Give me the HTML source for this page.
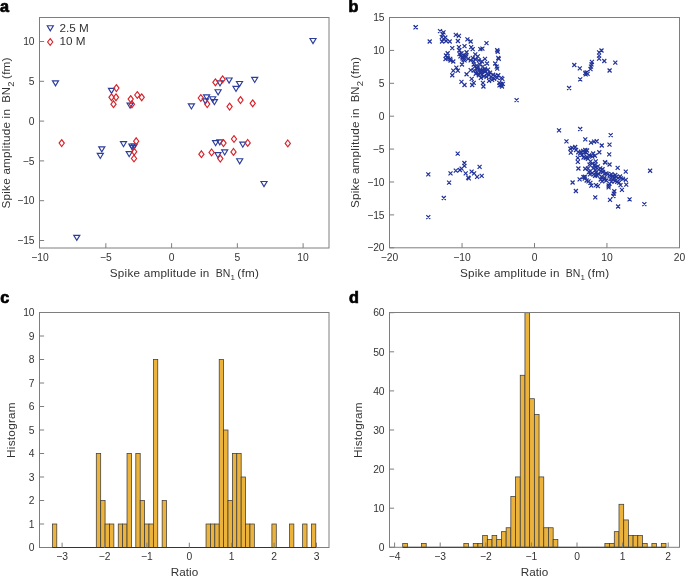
<!DOCTYPE html>
<html><head><meta charset="utf-8"><title>Figure</title>
<style>
html,body{margin:0;padding:0;background:#fff;}
body{width:685px;height:577px;overflow:hidden;}
svg{display:block;font-family:"Liberation Sans",sans-serif;will-change:transform;}
</style></head>
<body>
<svg width="685" height="577" viewBox="0 0 685 577" fill="#333333">
<text x="0" y="11.9" font-size="16.2" font-weight="bold" fill="#000" stroke="#000" stroke-width="0.7">a</text>
<rect x="39.5" y="17.5" width="289.5" height="230.5" fill="none" stroke="#7e7e7e" stroke-width="1"/>
<line x1="39.5" y1="41.5" x2="44.1" y2="41.5" stroke="#7e7e7e" stroke-width="1"/>
<text x="34.6" y="45.2" text-anchor="end" font-size="10.3">10</text>
<line x1="39.5" y1="81.3" x2="44.1" y2="81.3" stroke="#7e7e7e" stroke-width="1"/>
<text x="34.6" y="85" text-anchor="end" font-size="10.3">5</text>
<line x1="39.5" y1="121.1" x2="44.1" y2="121.1" stroke="#7e7e7e" stroke-width="1"/>
<text x="34.6" y="124.8" text-anchor="end" font-size="10.3">0</text>
<line x1="39.5" y1="160.9" x2="44.1" y2="160.9" stroke="#7e7e7e" stroke-width="1"/>
<text x="34.6" y="164.6" text-anchor="end" font-size="10.3">−5</text>
<line x1="39.5" y1="200.7" x2="44.1" y2="200.7" stroke="#7e7e7e" stroke-width="1"/>
<text x="34.6" y="204.4" text-anchor="end" font-size="10.3">−10</text>
<line x1="39.5" y1="240.5" x2="44.1" y2="240.5" stroke="#7e7e7e" stroke-width="1"/>
<text x="34.6" y="244.2" text-anchor="end" font-size="10.3">−15</text>
<text x="40.1" y="260.8" text-anchor="middle" font-size="10.3">−10</text>
<line x1="105.85" y1="248" x2="105.85" y2="243.2" stroke="#7e7e7e" stroke-width="1"/>
<text x="105.85" y="260.8" text-anchor="middle" font-size="10.3">−5</text>
<line x1="171.6" y1="248" x2="171.6" y2="243.2" stroke="#7e7e7e" stroke-width="1"/>
<text x="171.6" y="260.8" text-anchor="middle" font-size="10.3">0</text>
<line x1="237.35" y1="248" x2="237.35" y2="243.2" stroke="#7e7e7e" stroke-width="1"/>
<text x="237.35" y="260.8" text-anchor="middle" font-size="10.3">5</text>
<line x1="303.1" y1="248" x2="303.1" y2="243.2" stroke="#7e7e7e" stroke-width="1"/>
<text x="303.1" y="260.8" text-anchor="middle" font-size="10.3">10</text>
<g transform="translate(110.4,277.1)"><text x="-0.55" y="0" textLength="99.4" lengthAdjust="spacing" font-size="11.7">Spike amplitude in</text><text x="105.25" y="0" textLength="14.6" lengthAdjust="spacingAndGlyphs" font-size="11.7">BN</text><text x="120" y="3.3" font-size="8">1</text><text x="126.8" y="0" textLength="21.8" lengthAdjust="spacing" font-size="11.7">(fm)</text></g>
<g transform="translate(9.6,207.9) rotate(-90)"><text x="-0.55" y="0" textLength="99.4" lengthAdjust="spacing" font-size="11.7">Spike amplitude in</text><text x="105.25" y="0" textLength="15.6" lengthAdjust="spacingAndGlyphs" font-size="11.7">BN</text><text x="121.25" y="4.3" font-size="9.4">2</text><text x="129" y="0" textLength="21.2" lengthAdjust="spacing" font-size="11.7">(fm)</text></g>
<path d="M47.25 25.7H53.35L50.3 30.8Z" fill="none" stroke="#2c3d9c" stroke-width="1.15"/>
<path d="M50.2 38.6L52.8 42L50.2 45.4L47.6 42Z" fill="none" stroke="#d8232a" stroke-width="1.15"/>
<text x="59.6" y="32.1" font-size="11.7">2.5 M</text>
<text x="59.6" y="45.1" font-size="11.7">10 M</text>
<path d="M52.45 80.8H58.55L55.5 85.9Z" fill="none" stroke="#2c3d9c" stroke-width="1.15"/>
<path d="M309.95 38.5H316.05L313 43.6Z" fill="none" stroke="#2c3d9c" stroke-width="1.15"/>
<path d="M73.75 235.3H79.85L76.8 240.4Z" fill="none" stroke="#2c3d9c" stroke-width="1.15"/>
<path d="M260.95 181.5H267.05L264 186.6Z" fill="none" stroke="#2c3d9c" stroke-width="1.15"/>
<path d="M108.45 88.3H114.55L111.5 93.4Z" fill="none" stroke="#2c3d9c" stroke-width="1.15"/>
<path d="M127.05 103.1H133.15L130.1 108.2Z" fill="none" stroke="#2c3d9c" stroke-width="1.15"/>
<path d="M98.75 146.8H104.85L101.8 151.9Z" fill="none" stroke="#2c3d9c" stroke-width="1.15"/>
<path d="M97.25 153.4H103.35L100.3 158.5Z" fill="none" stroke="#2c3d9c" stroke-width="1.15"/>
<path d="M120.45 141.6H126.55L123.5 146.7Z" fill="none" stroke="#2c3d9c" stroke-width="1.15"/>
<path d="M128.85 144H134.95L131.9 149.1Z" fill="none" stroke="#2c3d9c" stroke-width="1.15"/>
<path d="M131.15 144H137.25L134.2 149.1Z" fill="none" stroke="#2c3d9c" stroke-width="1.15"/>
<path d="M129.75 145.5H135.85L132.8 150.6Z" fill="none" stroke="#2c3d9c" stroke-width="1.15"/>
<path d="M126.15 151.6H132.25L129.2 156.7Z" fill="none" stroke="#2c3d9c" stroke-width="1.15"/>
<path d="M188.35 103.9H194.45L191.4 109Z" fill="none" stroke="#2c3d9c" stroke-width="1.15"/>
<path d="M203.55 94.9H209.65L206.6 100Z" fill="none" stroke="#2c3d9c" stroke-width="1.15"/>
<path d="M202.35 98.8H208.45L205.4 103.9Z" fill="none" stroke="#2c3d9c" stroke-width="1.15"/>
<path d="M209.65 96.7H215.75L212.7 101.8Z" fill="none" stroke="#2c3d9c" stroke-width="1.15"/>
<path d="M211.35 99.6H217.45L214.4 104.7Z" fill="none" stroke="#2c3d9c" stroke-width="1.15"/>
<path d="M215.05 89.7H221.15L218.1 94.8Z" fill="none" stroke="#2c3d9c" stroke-width="1.15"/>
<path d="M216.95 80.9H223.05L220 86Z" fill="none" stroke="#2c3d9c" stroke-width="1.15"/>
<path d="M226.05 78H232.15L229.1 83.1Z" fill="none" stroke="#2c3d9c" stroke-width="1.15"/>
<path d="M236.45 81.5H242.55L239.5 86.6Z" fill="none" stroke="#2c3d9c" stroke-width="1.15"/>
<path d="M232.95 86.4H239.05L236 91.5Z" fill="none" stroke="#2c3d9c" stroke-width="1.15"/>
<path d="M251.65 77.4H257.75L254.7 82.5Z" fill="none" stroke="#2c3d9c" stroke-width="1.15"/>
<path d="M212.55 140.6H218.65L215.6 145.7Z" fill="none" stroke="#2c3d9c" stroke-width="1.15"/>
<path d="M216.75 139.8H222.85L219.8 144.9Z" fill="none" stroke="#2c3d9c" stroke-width="1.15"/>
<path d="M214.85 152.6H220.95L217.9 157.7Z" fill="none" stroke="#2c3d9c" stroke-width="1.15"/>
<path d="M221.65 149.9H227.75L224.7 155Z" fill="none" stroke="#2c3d9c" stroke-width="1.15"/>
<path d="M239.75 142.1H245.85L242.8 147.2Z" fill="none" stroke="#2c3d9c" stroke-width="1.15"/>
<path d="M236.65 158.7H242.75L239.7 163.8Z" fill="none" stroke="#2c3d9c" stroke-width="1.15"/>
<path d="M61.7 139.7L64.3 143.1L61.7 146.5L59.1 143.1Z" fill="none" stroke="#d8232a" stroke-width="1.15"/>
<path d="M287.8 140L290.4 143.4L287.8 146.8L285.2 143.4Z" fill="none" stroke="#d8232a" stroke-width="1.15"/>
<path d="M116.4 84.7L119 88.1L116.4 91.5L113.8 88.1Z" fill="none" stroke="#d8232a" stroke-width="1.15"/>
<path d="M111.5 93.9L114.1 97.3L111.5 100.7L108.9 97.3Z" fill="none" stroke="#d8232a" stroke-width="1.15"/>
<path d="M116 93.9L118.6 97.3L116 100.7L113.4 97.3Z" fill="none" stroke="#d8232a" stroke-width="1.15"/>
<path d="M113.5 100.8L116.1 104.2L113.5 107.6L110.9 104.2Z" fill="none" stroke="#d8232a" stroke-width="1.15"/>
<path d="M130.7 95.7L133.3 99.1L130.7 102.5L128.1 99.1Z" fill="none" stroke="#d8232a" stroke-width="1.15"/>
<path d="M131.9 100.9L134.5 104.3L131.9 107.7L129.3 104.3Z" fill="none" stroke="#d8232a" stroke-width="1.15"/>
<path d="M137.3 91.6L139.9 95L137.3 98.4L134.7 95Z" fill="none" stroke="#d8232a" stroke-width="1.15"/>
<path d="M141.7 93.9L144.3 97.3L141.7 100.7L139.1 97.3Z" fill="none" stroke="#d8232a" stroke-width="1.15"/>
<path d="M136.2 137.8L138.8 141.2L136.2 144.6L133.6 141.2Z" fill="none" stroke="#d8232a" stroke-width="1.15"/>
<path d="M134.2 148.3L136.8 151.7L134.2 155.1L131.6 151.7Z" fill="none" stroke="#d8232a" stroke-width="1.15"/>
<path d="M134 155.1L136.6 158.5L134 161.9L131.4 158.5Z" fill="none" stroke="#d8232a" stroke-width="1.15"/>
<path d="M200.8 94.6L203.4 98L200.8 101.4L198.2 98Z" fill="none" stroke="#d8232a" stroke-width="1.15"/>
<path d="M207.2 100.7L209.8 104.1L207.2 107.5L204.6 104.1Z" fill="none" stroke="#d8232a" stroke-width="1.15"/>
<path d="M215.4 78.9L218 82.3L215.4 85.7L212.8 82.3Z" fill="none" stroke="#d8232a" stroke-width="1.15"/>
<path d="M222.6 75.9L225.2 79.3L222.6 82.7L220 79.3Z" fill="none" stroke="#d8232a" stroke-width="1.15"/>
<path d="M229.6 103.2L232.2 106.6L229.6 110L227 106.6Z" fill="none" stroke="#d8232a" stroke-width="1.15"/>
<path d="M240.5 96.7L243.1 100.1L240.5 103.5L237.9 100.1Z" fill="none" stroke="#d8232a" stroke-width="1.15"/>
<path d="M252.7 99.9L255.3 103.3L252.7 106.7L250.1 103.3Z" fill="none" stroke="#d8232a" stroke-width="1.15"/>
<path d="M201.4 150.8L204 154.2L201.4 157.6L198.8 154.2Z" fill="none" stroke="#d8232a" stroke-width="1.15"/>
<path d="M211.6 149L214.2 152.4L211.6 155.8L209 152.4Z" fill="none" stroke="#d8232a" stroke-width="1.15"/>
<path d="M223.5 139.7L226.1 143.1L223.5 146.5L220.9 143.1Z" fill="none" stroke="#d8232a" stroke-width="1.15"/>
<path d="M220.3 155.2L222.9 158.6L220.3 162L217.7 158.6Z" fill="none" stroke="#d8232a" stroke-width="1.15"/>
<path d="M234 135.6L236.6 139L234 142.4L231.4 139Z" fill="none" stroke="#d8232a" stroke-width="1.15"/>
<path d="M233.5 148.5L236.1 151.9L233.5 155.3L230.9 151.9Z" fill="none" stroke="#d8232a" stroke-width="1.15"/>
<path d="M247.7 139.5L250.3 142.9L247.7 146.3L245.1 142.9Z" fill="none" stroke="#d8232a" stroke-width="1.15"/>
<text x="348.6" y="11.8" font-size="16.2" font-weight="bold" fill="#000" stroke="#000" stroke-width="0.7">b</text>
<rect x="389.5" y="17.5" width="290" height="230.3" fill="none" stroke="#7e7e7e" stroke-width="1"/>
<line x1="389.5" y1="17.52" x2="394.1" y2="17.52" stroke="#7e7e7e" stroke-width="1"/>
<text x="384.6" y="21.21" text-anchor="end" font-size="10.3">15</text>
<line x1="389.5" y1="50.41" x2="394.1" y2="50.41" stroke="#7e7e7e" stroke-width="1"/>
<text x="384.6" y="54.11" text-anchor="end" font-size="10.3">10</text>
<line x1="389.5" y1="83.31" x2="394.1" y2="83.31" stroke="#7e7e7e" stroke-width="1"/>
<text x="384.6" y="87.01" text-anchor="end" font-size="10.3">5</text>
<line x1="389.5" y1="116.2" x2="394.1" y2="116.2" stroke="#7e7e7e" stroke-width="1"/>
<text x="384.6" y="119.9" text-anchor="end" font-size="10.3">0</text>
<line x1="389.5" y1="149.09" x2="394.1" y2="149.09" stroke="#7e7e7e" stroke-width="1"/>
<text x="384.6" y="152.79" text-anchor="end" font-size="10.3">−5</text>
<line x1="389.5" y1="181.99" x2="394.1" y2="181.99" stroke="#7e7e7e" stroke-width="1"/>
<text x="384.6" y="185.69" text-anchor="end" font-size="10.3">−10</text>
<line x1="389.5" y1="214.88" x2="394.1" y2="214.88" stroke="#7e7e7e" stroke-width="1"/>
<text x="384.6" y="218.58" text-anchor="end" font-size="10.3">−15</text>
<line x1="389.5" y1="247.78" x2="394.1" y2="247.78" stroke="#7e7e7e" stroke-width="1"/>
<text x="384.6" y="251.48" text-anchor="end" font-size="10.3">−20</text>
<text x="389.6" y="260.8" text-anchor="middle" font-size="10.3">−20</text>
<line x1="462.05" y1="247.8" x2="462.05" y2="243" stroke="#7e7e7e" stroke-width="1"/>
<text x="462.05" y="260.8" text-anchor="middle" font-size="10.3">−10</text>
<line x1="534.5" y1="247.8" x2="534.5" y2="243" stroke="#7e7e7e" stroke-width="1"/>
<text x="534.5" y="260.8" text-anchor="middle" font-size="10.3">0</text>
<line x1="606.95" y1="247.8" x2="606.95" y2="243" stroke="#7e7e7e" stroke-width="1"/>
<text x="606.95" y="260.8" text-anchor="middle" font-size="10.3">10</text>
<text x="679.4" y="260.8" text-anchor="middle" font-size="10.3">20</text>
<g transform="translate(460.6,277.1)"><text x="-0.55" y="0" textLength="99.4" lengthAdjust="spacing" font-size="11.7">Spike amplitude in</text><text x="105.25" y="0" textLength="14.6" lengthAdjust="spacingAndGlyphs" font-size="11.7">BN</text><text x="120" y="3.3" font-size="8">1</text><text x="126.8" y="0" textLength="21.8" lengthAdjust="spacing" font-size="11.7">(fm)</text></g>
<g transform="translate(358.5,207.4) rotate(-90)"><text x="-0.55" y="0" textLength="99.4" lengthAdjust="spacing" font-size="11.7">Spike amplitude in</text><text x="105.25" y="0" textLength="15.6" lengthAdjust="spacingAndGlyphs" font-size="11.7">BN</text><text x="121.25" y="4.3" font-size="9.4">2</text><text x="129" y="0" textLength="21.2" lengthAdjust="spacing" font-size="11.7">(fm)</text></g>
<path d="M444 53.5L448 57.5M444 57.5L448 53.5M446 56.5L450 60.5M446 60.5L450 56.5M448.5 58.5L452.5 62.5M448.5 62.5L452.5 58.5M443.5 57L447.5 61M443.5 61L447.5 57M457.5 52L461.5 56M457.5 56L461.5 52M460.5 55L464.5 59M460.5 59L464.5 55M463.5 53.5L467.5 57.5M463.5 57.5L467.5 53.5M461.5 57.5L465.5 61.5M461.5 61.5L465.5 57.5M497.5 83.3L501.5 87.3M497.5 87.3L501.5 83.3M500 84.5L504 88.5M500 88.5L504 84.5M499 82L503 86M499 86L503 82M475 66L479 70M475 70L479 66M479 70L483 74M479 74L483 70M483 68L487 72M483 72L487 68M487 73L491 77M487 77L491 73M413.5 25.4L417.5 29.4M413.5 29.4L417.5 25.4M413.8 25.2L417.8 29.2M413.8 29.2L417.8 25.2M427.7 39.5L431.7 43.5M427.7 43.5L431.7 39.5M438 29.2L442 33.2M438 33.2L442 29.2M441.5 30.3L445.5 34.3M441.5 34.3L445.5 30.3M440.7 32.4L444.7 36.4M440.7 36.4L444.7 32.4M439.8 35.1L443.8 39.1M439.8 39.1L443.8 35.1M441.5 36.8L445.5 40.8M441.5 40.8L445.5 36.8M443.3 35.5L447.3 39.5M443.3 39.5L447.3 35.5M453.8 32.9L457.8 36.9M453.8 36.9L457.8 32.9M456.9 33.8L460.9 37.8M456.9 37.8L460.9 33.8M465.4 37.3L469.4 41.3M465.4 41.3L469.4 37.3M514.6 98.2L518.6 102.2M514.6 102.2L518.6 98.2M440.04 39.53L444.04 43.53M440.04 43.53L444.04 39.53M444.13 39.02L448.13 43.02M444.13 43.02L448.13 39.02M447.71 39.53L451.71 43.53M447.71 43.53L451.71 39.53M455.88 39.02L459.88 43.02M455.88 43.02L459.88 39.02M468.66 39.53L472.66 43.53M468.66 43.53L472.66 39.53M484.49 41.07L488.49 45.07M484.49 45.07L488.49 41.07M450.26 46.17L454.26 50.17M450.26 50.17L454.26 46.17M456.9 45.15L460.9 49.15M456.9 49.15L460.9 45.15M462.52 44.13L466.52 48.13M462.52 48.13L466.52 44.13M469.17 45.15L473.17 49.15M469.17 49.15L473.17 45.15M470.7 47.2L474.7 51.2M470.7 51.2L474.7 47.2M478.36 47.2L482.36 51.2M478.36 51.2L482.36 47.2M480.41 46.69L484.41 50.69M480.41 50.69L484.41 46.69M445.66 51.28L449.66 55.28M445.66 55.28L449.66 51.28M457.42 48.22L461.42 52.22M457.42 52.22L461.42 48.22M459.46 51.28L463.46 55.28M459.46 55.28L463.46 51.28M464.57 50.26L468.57 54.26M464.57 54.26L468.57 50.26M473.25 52.31L477.25 56.31M473.25 56.31L477.25 52.31M475.81 54.35L479.81 58.35M475.81 58.35L479.81 54.35M495.22 48.22L499.22 52.22M495.22 52.22L499.22 48.22M495.74 49.75L499.74 53.75M495.74 53.75L499.74 49.75M445.15 55.37L449.15 59.37M445.15 59.37L449.15 55.37M448.22 56.9L452.22 60.9M448.22 60.9L452.22 56.9M451.28 59.46L455.28 63.46M451.28 63.46L455.28 59.46M458.44 54.35L462.44 58.35M458.44 58.35L462.44 54.35M460.48 56.39L464.48 60.39M460.48 60.39L464.48 56.39M462.52 58.44L466.52 62.44M462.52 62.44L466.52 58.44M466.1 56.9L470.1 60.9M466.1 60.9L470.1 56.9M468.66 58.44L472.66 62.44M468.66 62.44L472.66 58.44M471.72 59.46L475.72 63.46M471.72 63.46L475.72 59.46M473.77 57.42L477.77 61.42M473.77 61.42L477.77 57.42M476.83 58.44L480.83 62.44M476.83 62.44L480.83 58.44M479.9 59.46L483.9 63.46M479.9 63.46L483.9 59.46M482.96 56.9L486.96 60.9M482.96 60.9L486.96 56.9M485.01 61.5L489.01 65.5M485.01 65.5L489.01 61.5M496.25 55.88L500.25 59.88M496.25 59.88L500.25 55.88M496.76 56.9L500.76 60.9M496.76 60.9L500.76 56.9M459.97 62.52L463.97 66.52M459.97 66.52L463.97 62.52M454.35 65.59L458.35 69.59M454.35 69.59L458.35 65.59M471.72 62.52L475.72 66.52M471.72 66.52L475.72 62.52M474.79 63.55L478.79 67.55M474.79 67.55L478.79 63.55M477.85 62.52L481.85 66.52M477.85 66.52L481.85 62.52M480.92 64.57L484.92 68.57M480.92 68.57L484.92 64.57M482.96 66.61L486.96 70.61M482.96 70.61L486.96 66.61M486.03 67.63L490.03 71.63M486.03 71.63L490.03 67.63M493.18 61.5L497.18 65.5M493.18 65.5L497.18 61.5M494.71 64.57L498.71 68.57M494.71 68.57L498.71 64.57M495.22 66.61L499.22 70.61M495.22 70.61L499.22 66.61M451.28 68.66L455.28 72.66M451.28 72.66L455.28 68.66M450.26 73.25L454.26 77.25M450.26 77.25L454.26 73.25M455.88 68.66L459.88 72.66M455.88 72.66L459.88 68.66M464.57 72.23L468.57 76.23M464.57 76.23L468.57 72.23M468.66 68.15L472.66 72.15M468.66 72.15L472.66 68.15M471.72 68.66L475.72 72.66M471.72 72.66L475.72 68.66M474.79 69.68L478.79 73.68M474.79 73.68L478.79 69.68M477.85 70.7L481.85 74.7M477.85 74.7L481.85 70.7M479.9 72.74L483.9 76.74M479.9 76.74L483.9 72.74M481.94 74.28L485.94 78.28M481.94 78.28L485.94 74.28M485.01 71.72L489.01 75.72M485.01 75.72L489.01 71.72M488.07 70.7L492.07 74.7M488.07 74.7L492.07 70.7M491.14 72.74L495.14 76.74M491.14 76.74L495.14 72.74M493.18 73.77L497.18 77.77M493.18 77.77L497.18 73.77M496.25 73.25L500.25 77.25M496.25 77.25L500.25 73.25M499.31 75.81L503.31 79.81M499.31 79.81L503.31 75.81M500.33 76.83L504.33 80.83M500.33 80.83L504.33 76.83M459.46 79.9L463.46 83.9M459.46 83.9L463.46 79.9M462.52 82.96L466.52 86.96M462.52 86.96L466.52 82.96M469.68 76.83L473.68 80.83M469.68 80.83L473.68 76.83M471.72 80.92L475.72 84.92M471.72 84.92L475.72 80.92M470.19 82.96L474.19 86.96M470.19 86.96L474.19 82.96M480.92 80.92L484.92 84.92M480.92 84.92L484.92 80.92M481.43 84.49L485.43 88.49M481.43 88.49L485.43 84.49M487.05 78.87L491.05 82.87M487.05 82.87L491.05 78.87M492.16 76.83L496.16 80.83M492.16 80.83L496.16 76.83M495.22 75.81L499.22 79.81M495.22 79.81L499.22 75.81M497.27 80.92L501.27 84.92M497.27 84.92L501.27 80.92M499.31 82.96L503.31 86.96M499.31 86.96L503.31 82.96M500.84 81.94L504.84 85.94M500.84 85.94L504.84 81.94M461.5 53.33L465.5 57.33M461.5 57.33L465.5 53.33M464.06 54.86L468.06 58.86M464.06 58.86L468.06 54.86M470.7 55.88L474.7 59.88M470.7 59.88L474.7 55.88M472.74 64.57L476.74 68.57M472.74 68.57L476.74 64.57M475.81 66.61L479.81 70.61M475.81 70.61L479.81 66.61M478.36 67.63L482.36 71.63M478.36 71.63L482.36 67.63M479.39 68.66L483.39 72.66M479.39 72.66L483.39 68.66M473.77 71.72L477.77 75.72M473.77 75.72L477.77 71.72M476.83 73.25L480.83 77.25M476.83 77.25L480.83 73.25M480.92 68.66L484.92 72.66M480.92 72.66L484.92 68.66M483.47 69.68L487.47 73.68M483.47 73.68L487.47 69.68M484.49 74.79L488.49 78.79M484.49 78.79L488.49 74.79M478.87 75.81L482.87 79.81M478.87 79.81L482.87 75.81M489.09 74.79L493.09 78.79M489.09 78.79L493.09 74.79M490.12 77.85L494.12 81.85M490.12 81.85L494.12 77.85M557.01 128.32L561.01 132.32M557.01 132.32L561.01 128.32M578.2 127.01L582.2 131.01M578.2 131.01L582.2 127.01M564.45 139.44L568.45 143.44M564.45 143.44L568.45 139.44M583.27 137.34L587.27 141.34M583.27 141.34L587.27 137.34M588.97 140.58L592.97 144.58M588.97 144.58L592.97 140.58M592.03 139.7L596.03 143.7M592.03 143.7L596.03 139.7M594.66 139.26L598.66 143.26M594.66 143.26L598.66 139.26M599.74 143.47L603.74 147.47M599.74 147.47L603.74 143.47M602.98 160.28L606.98 164.28M602.98 164.28L606.98 160.28M568.39 146.71L572.39 150.71M568.39 150.71L572.39 146.71M570.14 145.83L574.14 149.83M570.14 149.83L574.14 145.83M573.2 144.96L577.2 148.96M573.2 148.96L577.2 144.96M568.83 150.65L572.83 154.65M568.83 154.65L572.83 150.65M574.08 148.02L578.08 152.02M574.08 152.02L578.08 148.02M576.27 150.21L580.27 154.21M576.27 154.21L580.27 150.21M578.9 149.77L582.9 153.77M578.9 153.77L582.9 149.77M581.09 148.9L585.09 152.9M581.09 152.9L585.09 148.9M583.27 148.02L587.27 152.02M583.27 152.02L587.27 148.02M585.03 148.46L589.03 152.46M585.03 152.46L589.03 148.46M582.4 150.21L586.4 154.21M582.4 154.21L586.4 150.21M584.15 150.65L588.15 154.65M584.15 154.65L588.15 150.65M575.83 155.9L579.83 159.9M575.83 159.9L579.83 155.9M575.83 159.84L579.83 163.84M575.83 163.84L579.83 159.84M581.52 155.46L585.52 159.46M581.52 159.46L585.52 155.46M583.71 155.9L587.71 159.9M583.71 159.9L587.71 155.9M585.9 156.78L589.9 160.78M585.9 160.78L589.9 156.78M585.03 155.03L589.03 159.03M585.03 159.03L589.03 155.03M591.16 151.52L595.16 155.52M591.16 155.52L595.16 151.52M592.91 153.71L596.91 157.71M592.91 157.71L596.91 153.71M590.28 154.59L594.28 158.59M590.28 158.59L594.28 154.59M597.29 150.21L601.29 154.21M597.29 154.21L601.29 150.21M588.53 159.4L592.53 163.4M588.53 163.4L592.53 159.4M593.78 159.4L597.78 163.4M593.78 163.4L597.78 159.4M578.02 151.52L582.02 155.52M578.02 155.52L582.02 151.52M580.21 152.84L584.21 156.84M580.21 156.84L584.21 152.84M587.22 153.27L591.22 157.27M587.22 157.27L591.22 153.27M608.7 133.1L612.7 137.1M608.7 137.1L612.7 133.1M607.5 142.6L611.5 146.6M607.5 146.6L611.5 142.6M607.2 152.4L611.2 156.4M607.2 156.4L611.2 152.4M576.4 166.49L580.4 170.49M576.4 170.49L580.4 166.49M583.24 166.77L587.24 170.77M583.24 170.77L587.24 166.77M586.05 166.3L590.05 170.3M586.05 170.3L590.05 166.3M603.37 160.68L607.37 164.68M603.37 164.68L607.37 160.68M587.45 162.55L591.45 166.55M587.45 166.55L591.45 162.55M590.26 161.62L594.26 165.62M590.26 165.62L594.26 161.62M592.6 163.02L596.6 167.02M592.6 167.02L596.6 163.02M594.01 165.36L598.01 169.36M594.01 169.36L598.01 165.36M595.88 164.43L599.88 168.43M595.88 168.43L599.88 164.43M596.82 167.7L600.82 171.7M596.82 171.7L600.82 167.7M598.69 169.11L602.69 173.11M598.69 173.11L602.69 169.11M601.03 170.04L605.03 174.04M601.03 174.04L605.03 170.04M602.43 171.92L606.43 175.92M602.43 175.92L606.43 171.92M604.31 171.45L608.31 175.45M604.31 175.45L608.31 171.45M588.39 169.11L592.39 173.11M588.39 173.11L592.39 169.11M590.26 170.98L594.26 174.98M590.26 174.98L594.26 170.98M591.67 172.39L595.67 176.39M591.67 176.39L595.67 172.39M593.07 173.79L597.07 177.79M593.07 177.79L597.07 173.79M594.94 173.32L598.94 177.32M594.94 177.32L598.94 173.32M596.82 172.39L600.82 176.39M596.82 176.39L600.82 172.39M599.63 174.73L603.63 178.73M599.63 178.73L603.63 174.73M602.43 175.66L606.43 179.66M602.43 179.66L606.43 175.66M587.92 172.39L591.92 176.39M587.92 176.39L591.92 172.39M586.99 170.04L590.99 174.04M586.99 174.04L590.99 170.04M577.62 177.35L581.62 181.35M577.62 181.35L581.62 177.35M581.37 175.19L585.37 179.19M581.37 179.19L585.37 175.19M582.77 176.6L586.77 180.6M582.77 180.6L586.77 176.6M584.64 178.47L588.64 182.47M584.64 182.47L588.64 178.47M586.52 179.41L590.52 183.41M586.52 183.41L590.52 179.41M588.39 180.81L592.39 184.81M588.39 184.81L592.39 180.81M589.33 183.62L593.33 187.62M589.33 187.62L593.33 183.62M582.77 174.73L586.77 178.73M582.77 178.73L586.77 174.73M570.6 180.53L574.6 184.53M570.6 184.53L574.6 180.53M573.88 188.96L577.88 192.96M573.88 192.96L577.88 188.96M593.26 195.33L597.26 199.33M593.26 199.33L597.26 195.33M595.88 184.09L599.88 188.09M595.88 188.09L599.88 184.09M594.01 183.15L598.01 187.15M594.01 187.15L598.01 183.15M600.09 179.41L604.09 183.41M600.09 183.41L604.09 179.41M598.69 177.54L602.69 181.54M598.69 181.54L602.69 177.54M602.43 177.54L606.43 181.54M602.43 181.54L606.43 177.54M604.31 178.47L608.31 182.47M604.31 182.47L608.31 178.47M591.2 166.3L595.2 170.3M591.2 170.3L595.2 166.3M593.54 168.17L597.54 172.17M593.54 172.17L597.54 168.17M598.22 166.3L602.22 170.3M598.22 170.3L602.22 166.3M600.56 167.24L604.56 171.24M600.56 171.24L604.56 167.24M594.01 170.51L598.01 174.51M594.01 174.51L598.01 170.51M607.54 162.54L611.54 166.54M607.54 166.54L611.54 162.54M615.65 165.88L619.65 169.88M615.65 169.88L619.65 165.88M623.76 169.7L627.76 173.7M623.76 173.7L627.76 169.7M648.1 168.74L652.1 172.74M648.1 172.74L652.1 168.74M605.63 172.08L609.63 176.08M605.63 176.08L609.63 172.08M607.54 173.52L611.54 177.52M607.54 177.52L611.54 173.52M609.45 172.08L613.45 176.08M609.45 176.08L613.45 172.08M610.4 174.47L614.4 178.47M610.4 178.47L614.4 174.47M612.31 175.9L616.31 179.9M612.31 179.9L616.31 175.9M614.22 174.95L618.22 178.95M614.22 178.95L618.22 174.95M616.13 175.9L620.13 179.9M616.13 179.9L620.13 175.9M618.04 174.47L622.04 178.47M618.04 178.47L622.04 174.47M618.99 176.38L622.99 180.38M618.99 180.38L622.99 176.38M611.36 177.81L615.36 181.81M611.36 181.81L615.36 177.81M613.27 178.76L617.27 182.76M613.27 182.76L617.27 178.76M615.18 179.72L619.18 183.72M615.18 183.72L619.18 179.72M617.08 180.67L621.08 184.67M617.08 184.67L621.08 180.67M609.45 179.72L613.45 183.72M609.45 183.72L613.45 179.72M607.54 181.63L611.54 185.63M607.54 185.63L611.54 181.63M606.59 183.53L610.59 187.53M606.59 187.53L610.59 183.53M620.9 176.85L624.9 180.85M620.9 180.85L624.9 176.85M623.76 177.81L627.76 181.81M623.76 181.81L627.76 177.81M624.24 182.58L628.24 186.58M624.24 186.58L628.24 182.58M618.52 183.06L622.52 187.06M618.52 187.06L622.52 183.06M619.95 187.83L623.95 191.83M619.95 191.83L623.95 187.83M606.59 185.44L610.59 189.44M606.59 189.44L610.59 185.44M612.31 189.26L616.31 193.26M612.31 193.26L616.31 189.26M611.84 191.65L615.84 195.65M611.84 195.65L615.84 191.65M611.36 194.03L615.36 198.03M611.36 198.03L615.36 194.03M608.02 197.85L612.02 201.85M608.02 201.85L612.02 197.85M616.13 204.53L620.13 208.53M616.13 208.53L620.13 204.53M627.58 197.37L631.58 201.37M627.58 201.37L631.58 197.37M642.37 202.14L646.37 206.14M642.37 206.14L646.37 202.14M608.5 176.85L612.5 180.85M608.5 180.85L612.5 176.85M613.27 173.04L617.27 177.04M613.27 177.04L617.27 173.04M567.1 86L571.1 90M567.1 90L571.1 86M578.2 77.3L582.2 81.3M578.2 81.3L582.2 77.3M572.3 63L576.3 67M572.3 67L576.3 63M577.8 66.4L581.8 70.4M577.8 70.4L581.8 66.4M583.3 70.9L587.3 74.9M583.3 74.9L587.3 70.9M584.7 70.4L588.7 74.4M584.7 74.4L588.7 70.4M583.7 72.3L587.7 76.3M583.7 76.3L587.7 72.3M585.6 71.8L589.6 75.8M585.6 75.8L589.6 71.8M588.5 67.1L592.5 71.1M588.5 71.1L592.5 67.1M589 64.7L593 68.7M589 68.7L593 64.7M589.5 62.3L593.5 66.3M589.5 66.3L593.5 62.3M589.9 59.9L593.9 63.9M589.9 63.9L593.9 59.9M597.1 50.4L601.1 54.4M597.1 54.4L601.1 50.4M599.5 48.5L603.5 52.5M599.5 52.5L603.5 48.5M597.1 53.7L601.1 57.7M597.1 57.7L601.1 53.7M597.1 56.6L601.1 60.6M597.1 60.6L601.1 56.6M602.3 59L606.3 63M602.3 63L606.3 59M607.6 68.5L611.6 72.5M607.6 72.5L611.6 68.5M613.3 60.7L617.3 64.7M613.3 64.7L617.3 60.7M426.3 172.4L430.3 176.4M426.3 176.4L430.3 172.4M426.3 215.1L430.3 219.1M426.3 219.1L430.3 215.1M441.8 196L445.8 200M441.8 200L445.8 196M447.1 180.7L451.1 184.7M447.1 184.7L451.1 180.7M448.5 171.4L452.5 175.4M448.5 175.4L452.5 171.4M455.7 151.7L459.7 155.7M455.7 155.7L459.7 151.7M453.8 168.6L457.8 172.6M453.8 172.6L457.8 168.6M457.9 168L461.9 172M457.9 172L461.9 168M459.6 166.6L463.6 170.6M459.6 170.6L463.6 166.6M462.4 161L466.4 165M462.4 165L466.4 161M462.4 163.8L466.4 167.8M462.4 167.8L466.4 163.8M463.7 171.4L467.7 175.4M463.7 175.4L467.7 171.4M466.2 175.6L470.2 179.6M466.2 179.6L470.2 175.6M466.8 176.3L470.8 180.3M466.8 180.3L470.8 176.3M469.6 169.6L473.6 173.6M469.6 173.6L473.6 169.6M472.1 171.4L476.1 175.4M472.1 175.4L476.1 171.4M475.1 174.9L479.1 178.9M475.1 178.9L479.1 174.9M477.6 164.9L481.6 168.9M477.6 168.9L481.6 164.9M479.7 173.8L483.7 177.8M479.7 177.8L483.7 173.8" fill="none" stroke="#22339a" stroke-width="1.2"/>
<text x="0.2" y="303.2" font-size="16.2" font-weight="bold" fill="#000" stroke="#000" stroke-width="0.7">c</text>
<rect x="52.4" y="524" width="4.39" height="23.5" fill="#ecb33c" stroke="#3c3c3c" stroke-width="0.75"/>
<rect x="96.3" y="453.5" width="4.39" height="94" fill="#ecb33c" stroke="#3c3c3c" stroke-width="0.75"/>
<rect x="100.69" y="500.5" width="4.39" height="47" fill="#ecb33c" stroke="#3c3c3c" stroke-width="0.75"/>
<rect x="105.08" y="524" width="4.39" height="23.5" fill="#ecb33c" stroke="#3c3c3c" stroke-width="0.75"/>
<rect x="109.47" y="524" width="4.39" height="23.5" fill="#ecb33c" stroke="#3c3c3c" stroke-width="0.75"/>
<rect x="118.25" y="524" width="4.39" height="23.5" fill="#ecb33c" stroke="#3c3c3c" stroke-width="0.75"/>
<rect x="122.64" y="524" width="4.39" height="23.5" fill="#ecb33c" stroke="#3c3c3c" stroke-width="0.75"/>
<rect x="127.03" y="453.5" width="4.39" height="94" fill="#ecb33c" stroke="#3c3c3c" stroke-width="0.75"/>
<rect x="135.81" y="453.5" width="4.39" height="94" fill="#ecb33c" stroke="#3c3c3c" stroke-width="0.75"/>
<rect x="140.2" y="500.5" width="4.39" height="47" fill="#ecb33c" stroke="#3c3c3c" stroke-width="0.75"/>
<rect x="144.59" y="524" width="4.39" height="23.5" fill="#ecb33c" stroke="#3c3c3c" stroke-width="0.75"/>
<rect x="148.98" y="524" width="4.39" height="23.5" fill="#ecb33c" stroke="#3c3c3c" stroke-width="0.75"/>
<rect x="153.37" y="359.5" width="4.39" height="188" fill="#ecb33c" stroke="#3c3c3c" stroke-width="0.75"/>
<rect x="162.15" y="500.5" width="4.39" height="47" fill="#ecb33c" stroke="#3c3c3c" stroke-width="0.75"/>
<rect x="206.05" y="524" width="4.39" height="23.5" fill="#ecb33c" stroke="#3c3c3c" stroke-width="0.75"/>
<rect x="210.44" y="524" width="4.39" height="23.5" fill="#ecb33c" stroke="#3c3c3c" stroke-width="0.75"/>
<rect x="214.83" y="524" width="4.39" height="23.5" fill="#ecb33c" stroke="#3c3c3c" stroke-width="0.75"/>
<rect x="219.22" y="359.5" width="4.39" height="188" fill="#ecb33c" stroke="#3c3c3c" stroke-width="0.75"/>
<rect x="223.61" y="430" width="4.39" height="117.5" fill="#ecb33c" stroke="#3c3c3c" stroke-width="0.75"/>
<rect x="228" y="500.5" width="4.39" height="47" fill="#ecb33c" stroke="#3c3c3c" stroke-width="0.75"/>
<rect x="232.39" y="453.5" width="4.39" height="94" fill="#ecb33c" stroke="#3c3c3c" stroke-width="0.75"/>
<rect x="236.78" y="453.5" width="4.39" height="94" fill="#ecb33c" stroke="#3c3c3c" stroke-width="0.75"/>
<rect x="241.17" y="477" width="4.39" height="70.5" fill="#ecb33c" stroke="#3c3c3c" stroke-width="0.75"/>
<rect x="245.56" y="524" width="4.39" height="23.5" fill="#ecb33c" stroke="#3c3c3c" stroke-width="0.75"/>
<rect x="249.95" y="524" width="4.39" height="23.5" fill="#ecb33c" stroke="#3c3c3c" stroke-width="0.75"/>
<rect x="271.9" y="524" width="4.39" height="23.5" fill="#ecb33c" stroke="#3c3c3c" stroke-width="0.75"/>
<rect x="289.46" y="524" width="4.39" height="23.5" fill="#ecb33c" stroke="#3c3c3c" stroke-width="0.75"/>
<rect x="302.63" y="524" width="4.39" height="23.5" fill="#ecb33c" stroke="#3c3c3c" stroke-width="0.75"/>
<rect x="311.41" y="524" width="4.39" height="23.5" fill="#ecb33c" stroke="#3c3c3c" stroke-width="0.75"/>
<rect x="39.5" y="312.5" width="289.5" height="235" fill="none" stroke="#7e7e7e" stroke-width="1"/>
<line x1="52.24" y1="547.5" x2="316.24" y2="547.5" stroke="#333" stroke-width="1"/>
<line x1="39.5" y1="312.5" x2="44.1" y2="312.5" stroke="#7e7e7e" stroke-width="1"/>
<text x="34.6" y="316.2" text-anchor="end" font-size="10.3">10</text>
<line x1="39.5" y1="336" x2="44.1" y2="336" stroke="#7e7e7e" stroke-width="1"/>
<text x="34.6" y="339.7" text-anchor="end" font-size="10.3">9</text>
<line x1="39.5" y1="359.5" x2="44.1" y2="359.5" stroke="#7e7e7e" stroke-width="1"/>
<text x="34.6" y="363.2" text-anchor="end" font-size="10.3">8</text>
<line x1="39.5" y1="383" x2="44.1" y2="383" stroke="#7e7e7e" stroke-width="1"/>
<text x="34.6" y="386.7" text-anchor="end" font-size="10.3">7</text>
<line x1="39.5" y1="406.5" x2="44.1" y2="406.5" stroke="#7e7e7e" stroke-width="1"/>
<text x="34.6" y="410.2" text-anchor="end" font-size="10.3">6</text>
<line x1="39.5" y1="430" x2="44.1" y2="430" stroke="#7e7e7e" stroke-width="1"/>
<text x="34.6" y="433.7" text-anchor="end" font-size="10.3">5</text>
<line x1="39.5" y1="453.5" x2="44.1" y2="453.5" stroke="#7e7e7e" stroke-width="1"/>
<text x="34.6" y="457.2" text-anchor="end" font-size="10.3">4</text>
<line x1="39.5" y1="477" x2="44.1" y2="477" stroke="#7e7e7e" stroke-width="1"/>
<text x="34.6" y="480.7" text-anchor="end" font-size="10.3">3</text>
<line x1="39.5" y1="500.5" x2="44.1" y2="500.5" stroke="#7e7e7e" stroke-width="1"/>
<text x="34.6" y="504.2" text-anchor="end" font-size="10.3">2</text>
<line x1="39.5" y1="524" x2="44.1" y2="524" stroke="#7e7e7e" stroke-width="1"/>
<text x="34.6" y="527.7" text-anchor="end" font-size="10.3">1</text>
<line x1="39.5" y1="547.5" x2="44.1" y2="547.5" stroke="#7e7e7e" stroke-width="1"/>
<text x="34.6" y="551.2" text-anchor="end" font-size="10.3">0</text>
<line x1="62.1" y1="547.5" x2="62.1" y2="542.7" stroke="#7e7e7e" stroke-width="1"/>
<text x="62.1" y="559.9" text-anchor="middle" font-size="10.3">−3</text>
<line x1="104.5" y1="547.5" x2="104.5" y2="542.7" stroke="#7e7e7e" stroke-width="1"/>
<text x="104.5" y="559.9" text-anchor="middle" font-size="10.3">−2</text>
<line x1="146.9" y1="547.5" x2="146.9" y2="542.7" stroke="#7e7e7e" stroke-width="1"/>
<text x="146.9" y="559.9" text-anchor="middle" font-size="10.3">−1</text>
<line x1="189.3" y1="547.5" x2="189.3" y2="542.7" stroke="#7e7e7e" stroke-width="1"/>
<text x="189.3" y="559.9" text-anchor="middle" font-size="10.3">0</text>
<line x1="231.7" y1="547.5" x2="231.7" y2="542.7" stroke="#7e7e7e" stroke-width="1"/>
<text x="231.7" y="559.9" text-anchor="middle" font-size="10.3">1</text>
<line x1="274.1" y1="547.5" x2="274.1" y2="542.7" stroke="#7e7e7e" stroke-width="1"/>
<text x="274.1" y="559.9" text-anchor="middle" font-size="10.3">2</text>
<line x1="316.5" y1="547.5" x2="316.5" y2="542.7" stroke="#7e7e7e" stroke-width="1"/>
<text x="316.5" y="559.9" text-anchor="middle" font-size="10.3">3</text>
<text x="184.5" y="576" text-anchor="middle" font-size="11.7">Ratio</text>
<text transform="translate(15.3,430) rotate(-90)" text-anchor="middle" font-size="11.7" letter-spacing="0.28">Histogram</text>
<text x="349" y="303.4" font-size="16.2" font-weight="bold" fill="#000" stroke="#000" stroke-width="0.7">d</text>
<rect x="402.7" y="543.39" width="4.702" height="3.91" fill="#ecb33c" stroke="#3c3c3c" stroke-width="0.75"/>
<rect x="421.51" y="543.39" width="4.702" height="3.91" fill="#ecb33c" stroke="#3c3c3c" stroke-width="0.75"/>
<rect x="463.83" y="543.39" width="4.702" height="3.91" fill="#ecb33c" stroke="#3c3c3c" stroke-width="0.75"/>
<rect x="473.23" y="543.39" width="4.702" height="3.91" fill="#ecb33c" stroke="#3c3c3c" stroke-width="0.75"/>
<rect x="477.93" y="543.39" width="4.702" height="3.91" fill="#ecb33c" stroke="#3c3c3c" stroke-width="0.75"/>
<rect x="482.63" y="535.57" width="4.702" height="11.73" fill="#ecb33c" stroke="#3c3c3c" stroke-width="0.75"/>
<rect x="487.34" y="539.48" width="4.702" height="7.82" fill="#ecb33c" stroke="#3c3c3c" stroke-width="0.75"/>
<rect x="492.04" y="535.57" width="4.702" height="11.73" fill="#ecb33c" stroke="#3c3c3c" stroke-width="0.75"/>
<rect x="496.74" y="539.48" width="4.702" height="7.82" fill="#ecb33c" stroke="#3c3c3c" stroke-width="0.75"/>
<rect x="501.44" y="531.66" width="4.702" height="15.64" fill="#ecb33c" stroke="#3c3c3c" stroke-width="0.75"/>
<rect x="506.14" y="527.75" width="4.702" height="19.55" fill="#ecb33c" stroke="#3c3c3c" stroke-width="0.75"/>
<rect x="510.85" y="496.47" width="4.702" height="50.83" fill="#ecb33c" stroke="#3c3c3c" stroke-width="0.75"/>
<rect x="515.55" y="476.92" width="4.702" height="70.38" fill="#ecb33c" stroke="#3c3c3c" stroke-width="0.75"/>
<rect x="520.25" y="375.26" width="4.702" height="172.04" fill="#ecb33c" stroke="#3c3c3c" stroke-width="0.75"/>
<rect x="524.95" y="312.7" width="4.702" height="234.6" fill="#ecb33c" stroke="#3c3c3c" stroke-width="0.75"/>
<rect x="529.65" y="398.72" width="4.702" height="148.58" fill="#ecb33c" stroke="#3c3c3c" stroke-width="0.75"/>
<rect x="534.36" y="414.36" width="4.702" height="132.94" fill="#ecb33c" stroke="#3c3c3c" stroke-width="0.75"/>
<rect x="539.06" y="476.92" width="4.702" height="70.38" fill="#ecb33c" stroke="#3c3c3c" stroke-width="0.75"/>
<rect x="543.76" y="527.75" width="4.702" height="19.55" fill="#ecb33c" stroke="#3c3c3c" stroke-width="0.75"/>
<rect x="548.46" y="527.75" width="4.702" height="19.55" fill="#ecb33c" stroke="#3c3c3c" stroke-width="0.75"/>
<rect x="553.16" y="539.48" width="4.702" height="7.82" fill="#ecb33c" stroke="#3c3c3c" stroke-width="0.75"/>
<rect x="604.89" y="543.39" width="4.702" height="3.91" fill="#ecb33c" stroke="#3c3c3c" stroke-width="0.75"/>
<rect x="609.59" y="543.39" width="4.702" height="3.91" fill="#ecb33c" stroke="#3c3c3c" stroke-width="0.75"/>
<rect x="614.29" y="531.66" width="4.702" height="15.64" fill="#ecb33c" stroke="#3c3c3c" stroke-width="0.75"/>
<rect x="618.99" y="504.29" width="4.702" height="43.01" fill="#ecb33c" stroke="#3c3c3c" stroke-width="0.75"/>
<rect x="623.69" y="519.93" width="4.702" height="27.37" fill="#ecb33c" stroke="#3c3c3c" stroke-width="0.75"/>
<rect x="628.4" y="535.57" width="4.702" height="11.73" fill="#ecb33c" stroke="#3c3c3c" stroke-width="0.75"/>
<rect x="633.1" y="535.57" width="4.702" height="11.73" fill="#ecb33c" stroke="#3c3c3c" stroke-width="0.75"/>
<rect x="637.8" y="535.57" width="4.702" height="11.73" fill="#ecb33c" stroke="#3c3c3c" stroke-width="0.75"/>
<rect x="642.5" y="543.39" width="4.702" height="3.91" fill="#ecb33c" stroke="#3c3c3c" stroke-width="0.75"/>
<rect x="651.91" y="543.39" width="4.702" height="3.91" fill="#ecb33c" stroke="#3c3c3c" stroke-width="0.75"/>
<rect x="661.31" y="543.39" width="4.702" height="3.91" fill="#ecb33c" stroke="#3c3c3c" stroke-width="0.75"/>
<rect x="389.5" y="312.5" width="290" height="234.8" fill="none" stroke="#7e7e7e" stroke-width="1"/>
<line x1="402.7" y1="547.3" x2="666.01" y2="547.3" stroke="#333" stroke-width="1"/>
<line x1="389.5" y1="312.7" x2="394.1" y2="312.7" stroke="#7e7e7e" stroke-width="1"/>
<text x="384.6" y="316.4" text-anchor="end" font-size="10.3">60</text>
<line x1="389.5" y1="351.8" x2="394.1" y2="351.8" stroke="#7e7e7e" stroke-width="1"/>
<text x="384.6" y="355.5" text-anchor="end" font-size="10.3">50</text>
<line x1="389.5" y1="390.9" x2="394.1" y2="390.9" stroke="#7e7e7e" stroke-width="1"/>
<text x="384.6" y="394.6" text-anchor="end" font-size="10.3">40</text>
<line x1="389.5" y1="430" x2="394.1" y2="430" stroke="#7e7e7e" stroke-width="1"/>
<text x="384.6" y="433.7" text-anchor="end" font-size="10.3">30</text>
<line x1="389.5" y1="469.1" x2="394.1" y2="469.1" stroke="#7e7e7e" stroke-width="1"/>
<text x="384.6" y="472.8" text-anchor="end" font-size="10.3">20</text>
<line x1="389.5" y1="508.2" x2="394.1" y2="508.2" stroke="#7e7e7e" stroke-width="1"/>
<text x="384.6" y="511.9" text-anchor="end" font-size="10.3">10</text>
<line x1="389.5" y1="547.3" x2="394.1" y2="547.3" stroke="#7e7e7e" stroke-width="1"/>
<text x="384.6" y="551" text-anchor="end" font-size="10.3">0</text>
<line x1="394.6" y1="547.3" x2="394.6" y2="542.5" stroke="#7e7e7e" stroke-width="1"/>
<text x="394.6" y="559.9" text-anchor="middle" font-size="10.3">−4</text>
<line x1="440.2" y1="547.3" x2="440.2" y2="542.5" stroke="#7e7e7e" stroke-width="1"/>
<text x="440.2" y="559.9" text-anchor="middle" font-size="10.3">−3</text>
<line x1="485.8" y1="547.3" x2="485.8" y2="542.5" stroke="#7e7e7e" stroke-width="1"/>
<text x="485.8" y="559.9" text-anchor="middle" font-size="10.3">−2</text>
<line x1="531.4" y1="547.3" x2="531.4" y2="542.5" stroke="#7e7e7e" stroke-width="1"/>
<text x="531.4" y="559.9" text-anchor="middle" font-size="10.3">−1</text>
<line x1="577" y1="547.3" x2="577" y2="542.5" stroke="#7e7e7e" stroke-width="1"/>
<text x="577" y="559.9" text-anchor="middle" font-size="10.3">0</text>
<line x1="622.6" y1="547.3" x2="622.6" y2="542.5" stroke="#7e7e7e" stroke-width="1"/>
<text x="622.6" y="559.9" text-anchor="middle" font-size="10.3">1</text>
<line x1="668.2" y1="547.3" x2="668.2" y2="542.5" stroke="#7e7e7e" stroke-width="1"/>
<text x="668.2" y="559.9" text-anchor="middle" font-size="10.3">2</text>
<text x="534.5" y="576" text-anchor="middle" font-size="11.7">Ratio</text>
<text transform="translate(362.4,430) rotate(-90)" text-anchor="middle" font-size="11.7" letter-spacing="0.28">Histogram</text>
</svg>
</body></html>
